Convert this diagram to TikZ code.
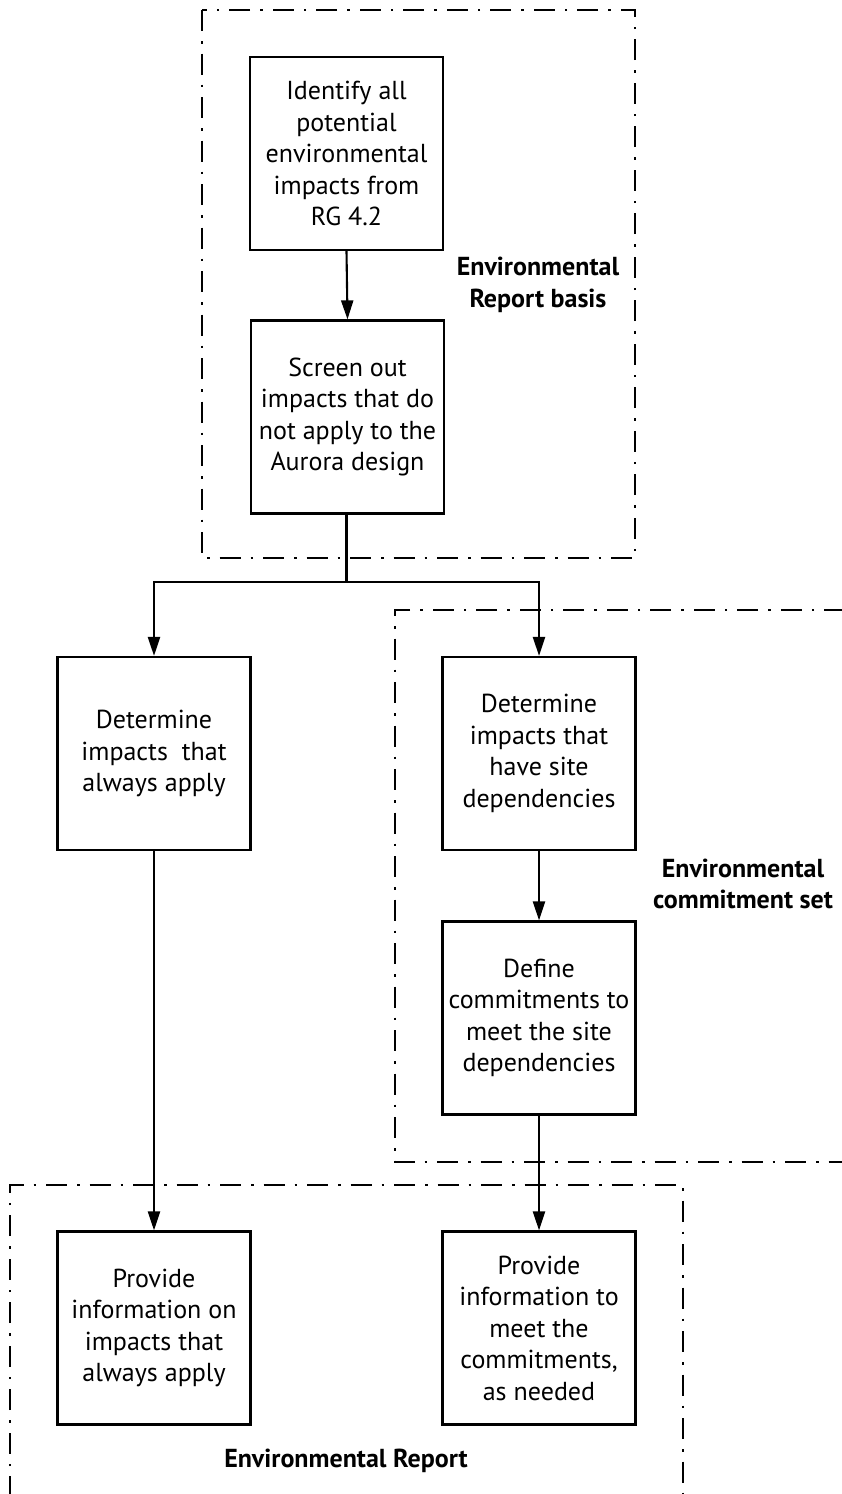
\documentclass[tikz,border=0pt]{standalone}
\usepackage{fontspec}
\setmainfont{PT Sans}
\usetikzlibrary{arrows.meta}
\begin{document}
\begin{tikzpicture}[x=1pt,y=-1pt,
  stepbox/.style={draw,line width=2.2pt,minimum width=193pt,minimum height=193pt,align=center,inner sep=0pt,font=\fontsize{26}{31.5}\selectfont},
  lbl/.style={align=center,font=\fontsize{26}{31.5}\selectfont\bfseries},
  grp/.style={line width=2pt,dash pattern=on 21pt off 10pt on 2.5pt off 10pt},
  conn/.style={line width=2.1pt},
  arr/.style={conn,-{Triangle[length=19pt,width=12pt]}}]
\useasboundingbox (0,0) rectangle (842,1494);
% group frames
\draw[grp] (202,10) rectangle (635,558);
\draw[grp] (845,610) -- (395,610) -- (395,1162) -- (845,1162);
\draw[grp] (10,1497) -- (10,1185) -- (683,1185) -- (683,1497);
% boxes
\node[stepbox] (b1) at (346.5,153.5) {Identify all\\potential\\environmental\\impacts from\\RG 4.2};
\node[stepbox] (b2) at (347.5,417) {Screen out\\impacts that do\\not apply to the\\Aurora design};
\node[stepbox] (b3) at (154,753.5) {Determine\\impacts\ \ that\\always apply};
\node[stepbox] (b4) at (539,753.5) {Determine\\impacts that\\have site\\dependencies};
\node[stepbox] (b5) at (539,1018) {Define\\commitments to\\meet the site\\dependencies};
\node[stepbox] (b6) at (154,1328) {Provide\\information on\\impacts that\\always apply};
\node[stepbox] (b7) at (539,1328) {Provide\\information to\\meet the\\commitments,\\as needed};
% labels
\node[lbl] (l1) at (538,285) {Environmental\\Report basis};
\node[lbl] (l2) at (743,884) {Environmental\\commitment set};
\node[lbl] (l3) at (346,1461) {Environmental Report};
% connectors
\coordinate (split) at (346.5,582);
\draw[arr] (b1.south) -- (b2.north);
\draw[conn] (b2.south -| split) -- (split);
\draw[arr] (split) -| (b3.north);
\draw[arr] (split) -| (b4.north);
\draw[arr] (b3) -- (b6);
\draw[arr] (b4) -- (b5);
\draw[arr] (b5) -- (b7);
\end{tikzpicture}
\end{document}
